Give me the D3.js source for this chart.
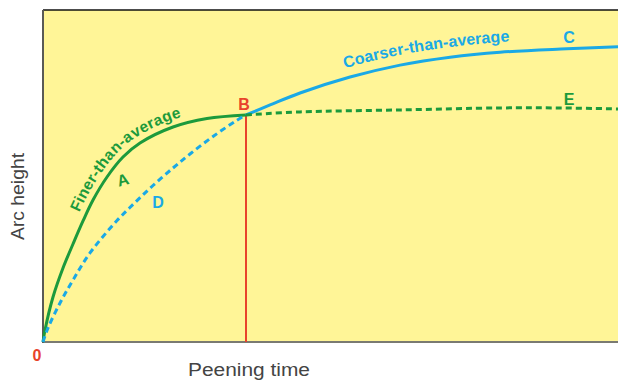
<!DOCTYPE html>
<html><head><meta charset="utf-8">
<script src="https://cdn.jsdelivr.net/npm/d3@7"></script>
<style>body{margin:0;background:#fff;}svg{display:block;font-family:"Liberation Sans",Arial,sans-serif;}</style>
</head><body>
<svg id="c" width="618" height="380"></svg>
<script>
// Data (x: peening time 0-100, y: arc height 0-100)
const curveA = [[0,0],[0.35,3.61],[1.74,13.55],[3.48,22.29],[5.22,29.52],[6.96,36.45],[8.70,42.77],[11.13,49.7],[13.91,55.72],[16.87,59.94],[22.61,64.76],[28.52,67.32],[35.3,68.4]];
const curveD = [[0,0],[0.87,4.22],[2.96,11.75],[5.22,18.67],[8.17,26.81],[12.87,36.57],[16.0,41.99],[19.13,47.14],[22.61,52.41],[25.57,56.63],[29.57,61.9],[33.74,66.81],[35.3,68.4]];
const curveC = [[35.3,68.4],[39.5,71.4],[44.7,75.0],[53.4,79.8],[62.1,83.4],[70.8,85.8],[79.5,87.3],[91.1,88.3],[100,88.9]];
const curveE = [[35.3,68.4],[44.7,69.3],[62.1,69.9],[79.5,70.5],[89.9,70.5],[100,70.2]];
const pointB = [35.3,68.4];
const xLabel = "Peening time", yLabel = "Arc height";

const svg = d3.select("#c");
const L=43, R=618, T=10, B=342;
const x = d3.scaleLinear().domain([0,100]).range([L,R]);
const y = d3.scaleLinear().domain([0,100]).range([B,T]);
const green="#1c9a3c", blue="#1aa9e6", red="#e8432b";

svg.append("rect").attr("x",L).attr("y",T).attr("width",R-L).attr("height",B-T).attr("fill","#fff597");
svg.append("line").attr("x1",L).attr("x2",R).attr("y1",T).attr("y2",T).attr("stroke","#111").attr("stroke-width",1.5);
svg.append("line").attr("x1",L).attr("x2",R).attr("y1",B).attr("y2",B).attr("stroke","#7a7a72").attr("stroke-width",2);
svg.append("line").attr("x1",L).attr("x2",L).attr("y1",T).attr("y2",B+1).attr("stroke","#5a5a55").attr("stroke-width",2);

const line = d3.line().x(d=>x(d[0])).y(d=>y(d[1])).curve(d3.curveCatmullRom.alpha(0.5));

svg.append("line").attr("x1",x(pointB[0])).attr("x2",x(pointB[0])).attr("y1",y(pointB[1])).attr("y2",y(0)).attr("stroke",red).attr("stroke-width",2);

svg.append("path").attr("id","pA").attr("d",line(curveA)).attr("fill","none").attr("stroke",green).attr("stroke-width",3);
svg.append("path").attr("d",line(curveD)).attr("fill","none").attr("stroke",blue).attr("stroke-width",3).attr("stroke-dasharray","6,4");
svg.append("path").attr("id","pC").attr("d",line(curveC)).attr("fill","none").attr("stroke",blue).attr("stroke-width",3);
svg.append("path").attr("d",line(curveE)).attr("fill","none").attr("stroke",green).attr("stroke-width",3).attr("stroke-dasharray","6,4");

// curve annotations
svg.append("text").attr("font-size",15.5).attr("font-weight","bold").attr("fill",green)
  .append("textPath").attr("href","#pA").attr("startOffset",134)
  .append("tspan").attr("dy",-7).text("Finer-than-average");
svg.append("text").attr("font-size",16).attr("font-weight","bold").attr("fill",blue)
  .append("textPath").attr("href","#pC").attr("startOffset",108)
  .append("tspan").attr("dy",-10).text("Coarser-than-average");

const lab = (t,px,py,c,rot)=>svg.append("text").attr("x",px).attr("y",py).attr("text-anchor","middle").attr("dominant-baseline","central")
  .attr("font-size",16).attr("font-weight","bold").attr("fill",c).attr("transform",rot?`rotate(${rot},${px},${py})`:null).text(t);
lab("B",x(pointB[0])-2,y(pointB[1])-10,red);
lab("C",569,37,blue);
lab("E",569,99,green);
lab("A",123,180,green,-15);
lab("D",158,202,blue);
lab("0",37,355,red);

svg.append("text").attr("x",188).attr("y",376).attr("textLength",122).attr("lengthAdjust","spacingAndGlyphs").attr("font-size",18).attr("fill","#444").text(xLabel);
svg.append("text").attr("transform","translate(24,240) rotate(-90)").attr("textLength",87).attr("lengthAdjust","spacingAndGlyphs").attr("font-size",18).attr("fill","#444").text(yLabel);
</script>
</body></html>
